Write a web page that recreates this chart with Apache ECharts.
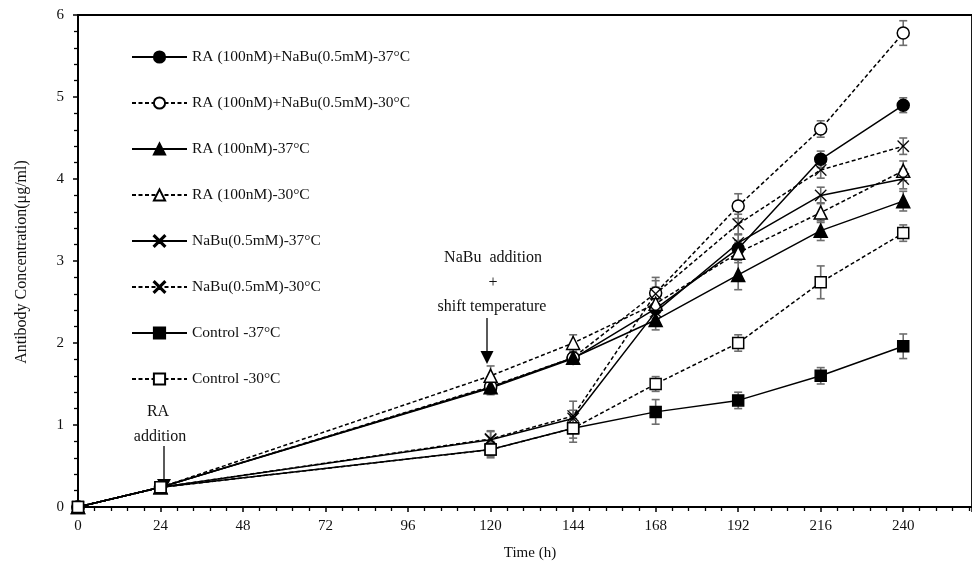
<!DOCTYPE html>
<html>
<head>
<meta charset="utf-8">
<script src="https://cdn.jsdelivr.net/npm/echarts@6/dist/echarts.min.js"></script>
<style>
html,body{margin:0;padding:0;background:#fff;}
#c{width:972px;height:566px;}
</style>
</head>
<body>
<div id="c"></div>
<script>
// ---- data ----
const times = [0, 24, 120, 144, 168, 192, 216, 240];
const xTicks = [0, 24, 48, 72, 96, 120, 144, 168, 192, 216, 240];
const yTicks = [0, 1, 2, 3, 4, 5, 6];

const names = [
  'RA (100nM)+NaBu(0.5mM)-37°C',
  'RA (100nM)+NaBu(0.5mM)-30°C',
  'RA (100nM)-37°C',
  'RA (100nM)-30°C',
  'NaBu(0.5mM)-37°C',
  'NaBu(0.5mM)-30°C',
  'Control -37°C',
  'Control -30°C'
];

const raNabu37 = [0, 0.24, 1.45, 1.81, 2.42, 3.15, 4.24, 4.90];
const raNabu30 = [0, 0.24, 1.47, 1.82, 2.61, 3.67, 4.61, 5.78];
const ra37     = [0, 0.24, 1.46, 1.82, 2.28, 2.83, 3.37, 3.73];
const ra30     = [0, 0.24, 1.60, 2.00, 2.48, 3.10, 3.59, 4.10];
const nabu37   = [0, 0.24, 0.82, 1.08, 2.38, 3.22, 3.80, 4.00];
const nabu30   = [0, 0.24, 0.83, 1.11, 2.60, 3.45, 4.11, 4.40];
const ctrl37   = [0, 0.24, 0.70, 0.96, 1.16, 1.30, 1.60, 1.96];
const ctrl30   = [0, 0.24, 0.70, 0.96, 1.50, 2.00, 2.74, 3.34];

const errRaNabu37 = [0, 0.03, 0.08, 0.06, 0.12, 0.10, 0.10, 0.09];
const errRaNabu30 = [0, 0.03, 0.08, 0.06, 0.15, 0.15, 0.10, 0.15];
const errRa37     = [0, 0.03, 0.08, 0.06, 0.12, 0.18, 0.12, 0.12];
const errRa30     = [0, 0.03, 0.12, 0.10, 0.20, 0.12, 0.12, 0.12];
const errNabu37   = [0, 0.03, 0.10, 0.10, 0.15, 0.10, 0.10, 0.12];
const errNabu30   = [0, 0.03, 0.10, 0.18, 0.20, 0.12, 0.10, 0.10];
const errCtrl37   = [0, 0.03, 0.10, 0.12, 0.15, 0.10, 0.10, 0.15];
const errCtrl30   = [0, 0.03, 0.08, 0.17, 0.09, 0.10, 0.20, 0.10];

// ---- styling ----
const crossPath = 'path://M0,0.7 L0.7,0 L5,4.3 L9.3,0 L10,0.7 L5.7,5 L10,9.3 L9.3,10 L5,5.7 L0.7,10 L0,9.3 L4.3,5 Z';
const FONT = '"Liberation Serif", "DejaVu Serif", serif';

const values = [raNabu37, raNabu30, ra37, ra30, nabu37, nabu30, ctrl37, ctrl30];
const errors = [errRaNabu37, errRaNabu30, errRa37, errRa30, errNabu37, errNabu30, errCtrl37, errCtrl30];
const styles = [
  {symbol:'circle',   size:12, fill:'#000', dash:false},
  {symbol:'circle',   size:12, fill:'#fff', dash:true},
  {symbol:'triangle', size:13, fill:'#000', dash:false},
  {symbol:'triangle', size:13, fill:'#fff', dash:true},
  {symbol:crossPath,  size:12, fill:'#000', dash:false, cross:true},
  {symbol:crossPath,  size:12, fill:'#000', dash:true, cross:true},
  {symbol:'rect',     size:11, fill:'#000', dash:false},
  {symbol:'rect',     size:11, fill:'#fff', dash:true}
];

const series = [];
// error bars
values.forEach((vals, i) => {
  const data = times.map((t, j) => [t, vals[j], errors[i][j]]);
  series.push({
    type: 'custom',
    silent: true,
    z: 1,
    data: data,
    renderItem: function (params, api) {
      const x = api.value(0), v = api.value(1), e = api.value(2);
      if (!e) return null;
      const top = api.coord([x, v + e]);
      const bot = api.coord([x, v - e]);
      const hw = 4;
      const st = {stroke: '#6e6e6e', lineWidth: 1.6};
      return {
        type: 'group',
        children: [
          {type:'line', shape:{x1:top[0], y1:top[1], x2:bot[0], y2:bot[1]}, style: st},
          {type:'line', shape:{x1:top[0]-hw, y1:top[1], x2:top[0]+hw, y2:top[1]}, style: st},
          {type:'line', shape:{x1:bot[0]-hw, y1:bot[1], x2:bot[0]+hw, y2:bot[1]}, style: st}
        ]
      };
    }
  });
});
// lines
values.forEach((vals, i) => {
  const s = styles[i];
  series.push({
    name: names[i],
    type: 'line',
    z: 3,
    data: times.map((t, j) => [t, vals[j]]),
    symbol: s.symbol,
    symbolSize: s.size,
    showAllSymbol: true,
    animation: false,
    lineStyle: {color:'#000', width:1.5, type: s.dash ? [4, 2.5] : 'solid'},
    itemStyle: s.cross
      ? {color:'#000', borderColor:'#000', borderWidth:0.2}
      : {color: s.fill, borderColor:'#000', borderWidth:1.5},
    emphasis: {disabled: true}
  });
});

const chart = echarts.init(document.getElementById('c'), null, {renderer:'canvas'});
chart.setOption({
  animation: false,
  backgroundColor: '#fff',
  grid: {left: 78, right: 0, top: 15, bottom: 59, show: true, borderColor:'#000', borderWidth: 1.8, backgroundColor:'transparent'},
  legend: {
    orient: 'vertical',
    left: 131, top: 49, padding: 0,
    itemWidth: 55, itemHeight: 14, itemGap: 30,
    data: names,
    selectedMode: false,
    textStyle: {fontFamily: FONT, fontSize: 15.5, color:'#111'}
  },
  xAxis: {
    type: 'value', min: 0, max: 260, interval: 24,
    axisLine: {lineStyle:{color:'#000', width:2}},
    axisTick: {show:true, length:5, lineStyle:{color:'#000', width:1.5}},
    minorTick: {show:true, splitNumber:5, length:4, lineStyle:{color:'#000', width:1.3}},
    splitLine: {show:false},
    axisLabel: {fontFamily: FONT, fontSize: 15, color:'#111', margin: 12, showMaxLabel:false,
      formatter: v => xTicks.indexOf(v) >= 0 ? String(v) : ''}
  },
  yAxis: {
    type: 'value', min: 0, max: 6, interval: 1,
    axisLine: {show:true, lineStyle:{color:'#000', width:2}},
    axisTick: {show:true, length:5, lineStyle:{color:'#000', width:1.5}},
    minorTick: {show:true, splitNumber:5, length:4, lineStyle:{color:'#000', width:1.3}},
    splitLine: {show:false},
    axisLabel: {fontFamily: FONT, fontSize: 15, color:'#111', margin: 14,
      formatter: v => yTicks.indexOf(v) >= 0 ? String(v) : ''}
  },
  graphic: [
    {type:'text', x: 530, y: 553, style:{text:'Time (h)', font:'15px ' + FONT, fill:'#111', textAlign:'center', textVerticalAlign:'middle'}},
    {type:'text', x: 22, y: 262, rotation: Math.PI/2, style:{text:'Antibody Concentration(μg/ml)', font:'16px ' + FONT, fill:'#111', textAlign:'center', textVerticalAlign:'middle'}},
    {type:'text', x: 158, y: 412, style:{text:'RA', font:'16px ' + FONT, fill:'#111', textAlign:'center', textVerticalAlign:'middle'}},
    {type:'text', x: 160, y: 437, style:{text:'addition', font:'16px ' + FONT, fill:'#111', textAlign:'center', textVerticalAlign:'middle'}},
    {type:'line', shape:{x1:164, y1:446, x2:164, y2:482}, style:{stroke:'#000', lineWidth:1.3}},
    {type:'polygon', shape:{points:[[157,479],[171,479],[164,492]]}, style:{fill:'#000'}},
    {type:'text', x: 493, y: 258, style:{text:'NaBu  addition', font:'16px ' + FONT, fill:'#111', textAlign:'center', textVerticalAlign:'middle'}},
    {type:'text', x: 493, y: 283, style:{text:'+', font:'16px ' + FONT, fill:'#111', textAlign:'center', textVerticalAlign:'middle'}},
    {type:'text', x: 492, y: 307, style:{text:'shift temperature', font:'16px ' + FONT, fill:'#111', textAlign:'center', textVerticalAlign:'middle'}},
    {type:'line', shape:{x1:487, y1:318, x2:487, y2:354}, style:{stroke:'#000', lineWidth:1.3}},
    {type:'polygon', shape:{points:[[480.5,351],[493.5,351],[487,364]]}, style:{fill:'#000'}}
  ],
  series: series
});
</script>
</body>
</html>
